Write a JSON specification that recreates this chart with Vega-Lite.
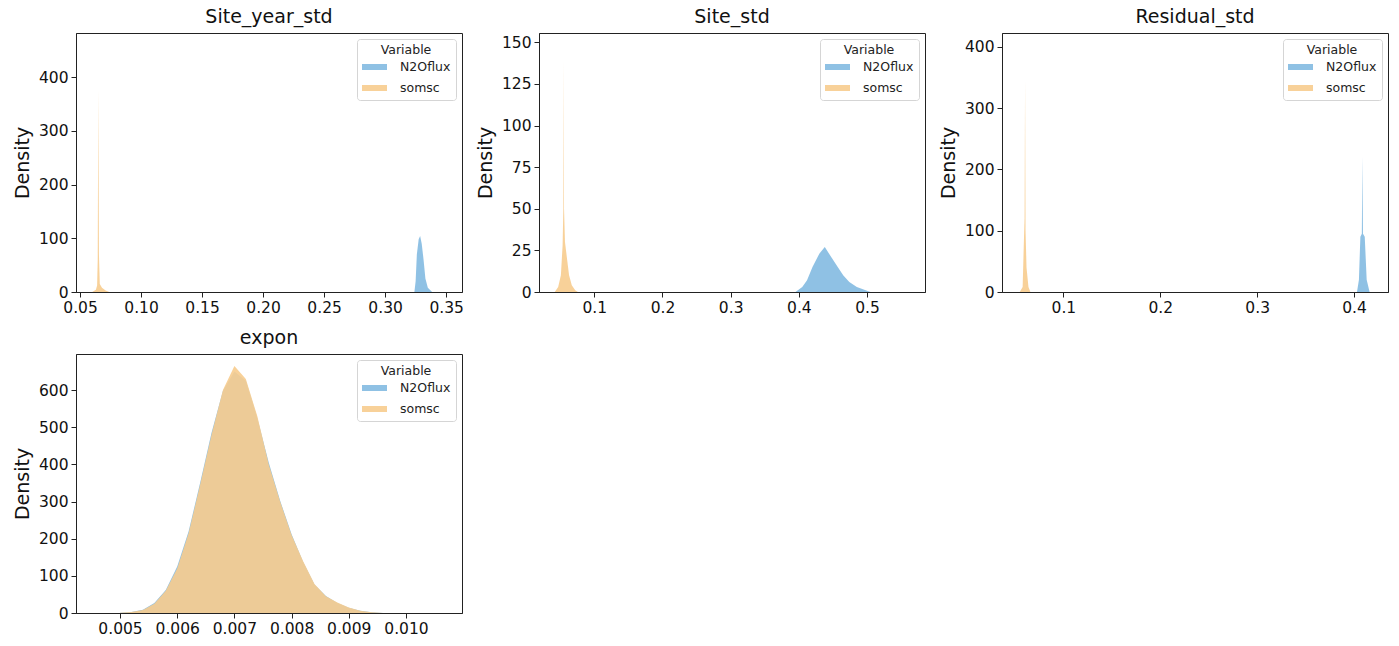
{
  "$schema": "https://vega.github.io/schema/vega-lite/v6.json",
  "autosize": {"type": "pad"},
  "padding": {"left": 12, "top": 7, "right": 0, "bottom": 0},
  "background": "white",
  "config": {
    "font": "DejaVu Sans",
    "view": {"stroke": "#222", "strokeWidth": 1},
    "axis": {
      "labelFontSize": 15.5, "titleFontSize": 19, "titleFontWeight": "normal",
      "labelColor": "#111", "titleColor": "#111", "tickColor": "#222", "domainColor": "#222",
      "tickSize": 5, "labelPadding": 3, "grid": false, "titlePadding": 6,
      "labelOverlap": false, "labelFlush": false
    },
    "title": {"fontSize": 19, "fontWeight": "normal", "color": "#111", "offset": 6},
    "legend": {
      "orient": "top-right", "offset": 6, "fillColor": "white", "strokeColor": "#d5d5d5",
      "cornerRadius": 3, "padding": 5, "titleFontSize": 12.5, "titleFontWeight": "normal",
      "titleAnchor": "middle", "labelFontSize": 12.5, "symbolType": "M-2,-0.48H2V0.48H-2Z",
      "symbolSize": 156, "symbolOffset": 6, "symbolOpacity": 0.6, "symbolStrokeWidth": 0, "rowPadding": 8,
      "labelOffset": 19, "titleColor": "#222", "labelColor": "#222", "titlePadding": 4
    }
  },
  "data": {"values": [
    {"panel": "Site_year_std", "variable": "N2Oflux", "x": 0.3240, "density": 0},
    {"panel": "Site_year_std", "variable": "N2Oflux", "x": 0.3250, "density": 20},
    {"panel": "Site_year_std", "variable": "N2Oflux", "x": 0.3260, "density": 70},
    {"panel": "Site_year_std", "variable": "N2Oflux", "x": 0.3275, "density": 98},
    {"panel": "Site_year_std", "variable": "N2Oflux", "x": 0.3287, "density": 104},
    {"panel": "Site_year_std", "variable": "N2Oflux", "x": 0.3300, "density": 90},
    {"panel": "Site_year_std", "variable": "N2Oflux", "x": 0.3315, "density": 60},
    {"panel": "Site_year_std", "variable": "N2Oflux", "x": 0.3330, "density": 25},
    {"panel": "Site_year_std", "variable": "N2Oflux", "x": 0.3350, "density": 8},
    {"panel": "Site_year_std", "variable": "N2Oflux", "x": 0.3385, "density": 0},
    {"panel": "Site_year_std", "variable": "somsc", "x": 0.0600, "density": 0},
    {"panel": "Site_year_std", "variable": "somsc", "x": 0.0630, "density": 4},
    {"panel": "Site_year_std", "variable": "somsc", "x": 0.0640, "density": 12},
    {"panel": "Site_year_std", "variable": "somsc", "x": 0.0645, "density": 60},
    {"panel": "Site_year_std", "variable": "somsc", "x": 0.0650, "density": 376},
    {"panel": "Site_year_std", "variable": "somsc", "x": 0.0655, "density": 70},
    {"panel": "Site_year_std", "variable": "somsc", "x": 0.0662, "density": 15},
    {"panel": "Site_year_std", "variable": "somsc", "x": 0.0680, "density": 8},
    {"panel": "Site_year_std", "variable": "somsc", "x": 0.0710, "density": 3},
    {"panel": "Site_year_std", "variable": "somsc", "x": 0.0740, "density": 0},

    {"panel": "Site_std", "variable": "N2Oflux", "x": 0.395, "density": 0},
    {"panel": "Site_std", "variable": "N2Oflux", "x": 0.405, "density": 3},
    {"panel": "Site_std", "variable": "N2Oflux", "x": 0.412, "density": 7},
    {"panel": "Site_std", "variable": "N2Oflux", "x": 0.420, "density": 15},
    {"panel": "Site_std", "variable": "N2Oflux", "x": 0.430, "density": 23},
    {"panel": "Site_std", "variable": "N2Oflux", "x": 0.438, "density": 27},
    {"panel": "Site_std", "variable": "N2Oflux", "x": 0.446, "density": 22},
    {"panel": "Site_std", "variable": "N2Oflux", "x": 0.457, "density": 15},
    {"panel": "Site_std", "variable": "N2Oflux", "x": 0.465, "density": 10},
    {"panel": "Site_std", "variable": "N2Oflux", "x": 0.474, "density": 6},
    {"panel": "Site_std", "variable": "N2Oflux", "x": 0.485, "density": 3},
    {"panel": "Site_std", "variable": "N2Oflux", "x": 0.498, "density": 1},
    {"panel": "Site_std", "variable": "N2Oflux", "x": 0.505, "density": 0},
    {"panel": "Site_std", "variable": "somsc", "x": 0.042, "density": 0},
    {"panel": "Site_std", "variable": "somsc", "x": 0.047, "density": 3},
    {"panel": "Site_std", "variable": "somsc", "x": 0.051, "density": 10},
    {"panel": "Site_std", "variable": "somsc", "x": 0.0535, "density": 28},
    {"panel": "Site_std", "variable": "somsc", "x": 0.0546, "density": 50},
    {"panel": "Site_std", "variable": "somsc", "x": 0.0551, "density": 139},
    {"panel": "Site_std", "variable": "somsc", "x": 0.0556, "density": 50},
    {"panel": "Site_std", "variable": "somsc", "x": 0.057, "density": 30},
    {"panel": "Site_std", "variable": "somsc", "x": 0.060, "density": 20},
    {"panel": "Site_std", "variable": "somsc", "x": 0.063, "density": 10},
    {"panel": "Site_std", "variable": "somsc", "x": 0.067, "density": 4},
    {"panel": "Site_std", "variable": "somsc", "x": 0.072, "density": 1},
    {"panel": "Site_std", "variable": "somsc", "x": 0.076, "density": 0},

    {"panel": "Residual_std", "variable": "N2Oflux", "x": 0.403, "density": 0},
    {"panel": "Residual_std", "variable": "N2Oflux", "x": 0.405, "density": 20},
    {"panel": "Residual_std", "variable": "N2Oflux", "x": 0.4065, "density": 90},
    {"panel": "Residual_std", "variable": "N2Oflux", "x": 0.408, "density": 95},
    {"panel": "Residual_std", "variable": "N2Oflux", "x": 0.4086, "density": 221},
    {"panel": "Residual_std", "variable": "N2Oflux", "x": 0.4092, "density": 95},
    {"panel": "Residual_std", "variable": "N2Oflux", "x": 0.411, "density": 90},
    {"panel": "Residual_std", "variable": "N2Oflux", "x": 0.413, "density": 20},
    {"panel": "Residual_std", "variable": "N2Oflux", "x": 0.416, "density": 0},
    {"panel": "Residual_std", "variable": "somsc", "x": 0.055, "density": 0},
    {"panel": "Residual_std", "variable": "somsc", "x": 0.058, "density": 8},
    {"panel": "Residual_std", "variable": "somsc", "x": 0.0595, "density": 95},
    {"panel": "Residual_std", "variable": "somsc", "x": 0.0600, "density": 120},
    {"panel": "Residual_std", "variable": "somsc", "x": 0.0605, "density": 345},
    {"panel": "Residual_std", "variable": "somsc", "x": 0.0610, "density": 100},
    {"panel": "Residual_std", "variable": "somsc", "x": 0.0620, "density": 40},
    {"panel": "Residual_std", "variable": "somsc", "x": 0.064, "density": 8},
    {"panel": "Residual_std", "variable": "somsc", "x": 0.066, "density": 0},

    {"panel": "expon", "variable": "N2Oflux", "x": 0.0050, "density": 1},
    {"panel": "expon", "variable": "N2Oflux", "x": 0.0052, "density": 3},
    {"panel": "expon", "variable": "N2Oflux", "x": 0.0054, "density": 9},
    {"panel": "expon", "variable": "N2Oflux", "x": 0.0056, "density": 27},
    {"panel": "expon", "variable": "N2Oflux", "x": 0.0058, "density": 62},
    {"panel": "expon", "variable": "N2Oflux", "x": 0.0060, "density": 125},
    {"panel": "expon", "variable": "N2Oflux", "x": 0.0062, "density": 220},
    {"panel": "expon", "variable": "N2Oflux", "x": 0.0064, "density": 350},
    {"panel": "expon", "variable": "N2Oflux", "x": 0.0066, "density": 485},
    {"panel": "expon", "variable": "N2Oflux", "x": 0.0068, "density": 598},
    {"panel": "expon", "variable": "N2Oflux", "x": 0.0070, "density": 650},
    {"panel": "expon", "variable": "N2Oflux", "x": 0.0072, "density": 625},
    {"panel": "expon", "variable": "N2Oflux", "x": 0.0074, "density": 525},
    {"panel": "expon", "variable": "N2Oflux", "x": 0.0076, "density": 405},
    {"panel": "expon", "variable": "N2Oflux", "x": 0.0078, "density": 302},
    {"panel": "expon", "variable": "N2Oflux", "x": 0.0080, "density": 212},
    {"panel": "expon", "variable": "N2Oflux", "x": 0.0082, "density": 138},
    {"panel": "expon", "variable": "N2Oflux", "x": 0.0084, "density": 77},
    {"panel": "expon", "variable": "N2Oflux", "x": 0.0086, "density": 46},
    {"panel": "expon", "variable": "N2Oflux", "x": 0.0088, "density": 27},
    {"panel": "expon", "variable": "N2Oflux", "x": 0.0090, "density": 14},
    {"panel": "expon", "variable": "N2Oflux", "x": 0.0092, "density": 6},
    {"panel": "expon", "variable": "N2Oflux", "x": 0.0094, "density": 2},
    {"panel": "expon", "variable": "N2Oflux", "x": 0.0096, "density": 0},
    {"panel": "expon", "variable": "somsc", "x": 0.0050, "density": 1},
    {"panel": "expon", "variable": "somsc", "x": 0.0052, "density": 3},
    {"panel": "expon", "variable": "somsc", "x": 0.0054, "density": 8},
    {"panel": "expon", "variable": "somsc", "x": 0.0056, "density": 25},
    {"panel": "expon", "variable": "somsc", "x": 0.0058, "density": 60},
    {"panel": "expon", "variable": "somsc", "x": 0.0060, "density": 120},
    {"panel": "expon", "variable": "somsc", "x": 0.0062, "density": 215},
    {"panel": "expon", "variable": "somsc", "x": 0.0064, "density": 345},
    {"panel": "expon", "variable": "somsc", "x": 0.0066, "density": 480},
    {"panel": "expon", "variable": "somsc", "x": 0.0068, "density": 600},
    {"panel": "expon", "variable": "somsc", "x": 0.0070, "density": 665},
    {"panel": "expon", "variable": "somsc", "x": 0.0072, "density": 630},
    {"panel": "expon", "variable": "somsc", "x": 0.0074, "density": 530},
    {"panel": "expon", "variable": "somsc", "x": 0.0076, "density": 400},
    {"panel": "expon", "variable": "somsc", "x": 0.0078, "density": 300},
    {"panel": "expon", "variable": "somsc", "x": 0.0080, "density": 210},
    {"panel": "expon", "variable": "somsc", "x": 0.0082, "density": 140},
    {"panel": "expon", "variable": "somsc", "x": 0.0084, "density": 78},
    {"panel": "expon", "variable": "somsc", "x": 0.0086, "density": 45},
    {"panel": "expon", "variable": "somsc", "x": 0.0088, "density": 28},
    {"panel": "expon", "variable": "somsc", "x": 0.0090, "density": 15},
    {"panel": "expon", "variable": "somsc", "x": 0.0092, "density": 6},
    {"panel": "expon", "variable": "somsc", "x": 0.0094, "density": 2},
    {"panel": "expon", "variable": "somsc", "x": 0.0096, "density": 0}
  ]},
  "columns": 3,
  "spacing": {"row": 62, "column": 77},
  "bounds": "flush",
  "resolve": {
    "scale": {"x": "independent", "y": "independent", "color": "independent", "opacity": "independent"},
    "axis": {"x": "independent", "y": "independent"},
    "legend": {"color": "independent"}
  },
  "concat": [
    {
      "width": 386, "height": 259,
      "title": "Site_year_std",
      "transform": [{"filter": "datum.panel === 'Site_year_std'"}],
      "mark": {"type": "area", "clip": true},
      "encoding": {
        "x": {"field": "x", "type": "quantitative", "scale": {"domain": [0.0467, 0.363], "nice": false, "zero": false},
              "axis": {"values": [0.05, 0.10, 0.15, 0.20, 0.25, 0.30, 0.35], "format": ".2f", "title": null}},
        "y": {"field": "density", "type": "quantitative", "stack": null, "scale": {"domain": [0, 482], "nice": false},
              "axis": {"values": [0, 100, 200, 300, 400], "title": "Density"}},
        "color": {"field": "variable", "type": "nominal", "scale": {"domain": ["N2Oflux", "somsc"], "range": ["#5fa6d8", "#f7cc8e"]},
                  "legend": {"title": "Variable"}},
        "opacity": {"field": "variable", "type": "nominal", "scale": {"domain": ["N2Oflux", "somsc"], "range": [0.7, 0.9]}, "legend": null}
      }
    },
    {
      "width": 386, "height": 259,
      "title": "Site_std",
      "transform": [{"filter": "datum.panel === 'Site_std'"}],
      "mark": {"type": "area", "clip": true},
      "encoding": {
        "x": {"field": "x", "type": "quantitative", "scale": {"domain": [0.0189, 0.585], "nice": false, "zero": false},
              "axis": {"values": [0.1, 0.2, 0.3, 0.4, 0.5], "format": ".1f", "title": null}},
        "y": {"field": "density", "type": "quantitative", "stack": null, "scale": {"domain": [0, 155.6], "nice": false},
              "axis": {"values": [0, 25, 50, 75, 100, 125, 150], "title": "Density"}},
        "color": {"field": "variable", "type": "nominal", "scale": {"domain": ["N2Oflux", "somsc"], "range": ["#5fa6d8", "#f7cc8e"]},
                  "legend": {"title": "Variable"}},
        "opacity": {"field": "variable", "type": "nominal", "scale": {"domain": ["N2Oflux", "somsc"], "range": [0.7, 0.9]}, "legend": null}
      }
    },
    {
      "width": 386, "height": 259,
      "title": "Residual_std",
      "transform": [{"filter": "datum.panel === 'Residual_std'"}],
      "mark": {"type": "area", "clip": true},
      "encoding": {
        "x": {"field": "x", "type": "quantitative", "scale": {"domain": [0.0367, 0.435], "nice": false, "zero": false},
              "axis": {"values": [0.1, 0.2, 0.3, 0.4], "format": ".1f", "title": null}},
        "y": {"field": "density", "type": "quantitative", "stack": null, "scale": {"domain": [0, 422.4], "nice": false},
              "axis": {"values": [0, 100, 200, 300, 400], "title": "Density"}},
        "color": {"field": "variable", "type": "nominal", "scale": {"domain": ["N2Oflux", "somsc"], "range": ["#5fa6d8", "#f7cc8e"]},
                  "legend": {"title": "Variable"}},
        "opacity": {"field": "variable", "type": "nominal", "scale": {"domain": ["N2Oflux", "somsc"], "range": [0.7, 0.9]}, "legend": null}
      }
    },
    {
      "width": 386, "height": 259,
      "title": "expon",
      "transform": [{"filter": "datum.panel === 'expon'"}],
      "mark": {"type": "area", "clip": true},
      "encoding": {
        "x": {"field": "x", "type": "quantitative", "scale": {"domain": [0.00423, 0.01098], "nice": false, "zero": false},
              "axis": {"values": [0.005, 0.006, 0.007, 0.008, 0.009, 0.010], "format": ".3f", "title": null}},
        "y": {"field": "density", "type": "quantitative", "stack": null, "scale": {"domain": [0, 697], "nice": false},
              "axis": {"values": [0, 100, 200, 300, 400, 500, 600], "title": "Density"}},
        "color": {"field": "variable", "type": "nominal", "scale": {"domain": ["N2Oflux", "somsc"], "range": ["#5fa6d8", "#f7cc8e"]},
                  "legend": {"title": "Variable"}},
        "opacity": {"field": "variable", "type": "nominal", "scale": {"domain": ["N2Oflux", "somsc"], "range": [0.7, 0.9]}, "legend": null}
      }
    }
  ]
}
